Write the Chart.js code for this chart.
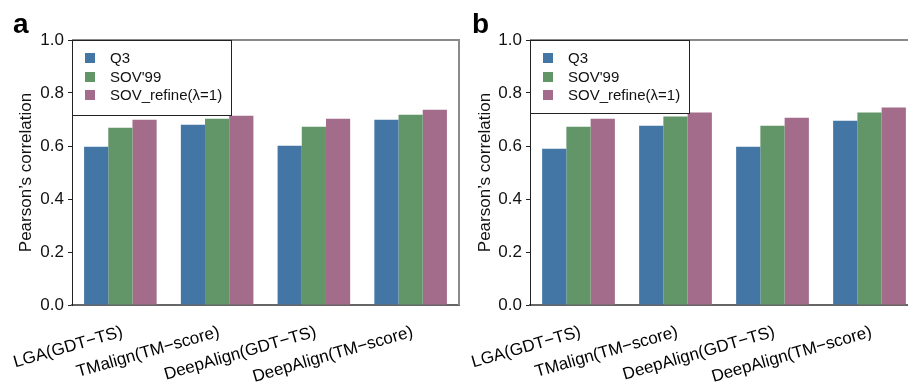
<!DOCTYPE html>
<html>
<head>
<meta charset="utf-8">
<script src="https://cdn.jsdelivr.net/npm/chart.js@4.4.1/dist/chart.umd.min.js"></script>
<style>
  html, body { margin: 0; padding: 0; background: #fff; width: 908px; height: 386px; overflow: hidden; position: relative; }
  canvas { position: absolute; top: 0; }
  #ca { left: 0; }
  #cb { left: 462px; }
</style>
</head>
<body>
<canvas id="ca" width="462" height="386"></canvas>
<canvas id="cb" width="466" height="386"></canvas>
<script>
const categories = ['LGA(GDT\u2212TS)', 'TMalign(TM\u2212score)', 'DeepAlign(GDT\u2212TS)', 'DeepAlign(TM\u2212score)'];
const seriesNames = ['Q3', "SOV'99", 'SOV_refine(\u03bb=1)'];
const yTickLabels = ['0.0', '0.2', '0.4', '0.6', '0.8', '1.0'];
const panelLetters = ['a', 'b'];

const a_q3     = [0.597, 0.680, 0.601, 0.699];
const a_sov99  = [0.669, 0.703, 0.673, 0.718];
const a_refine = [0.699, 0.714, 0.703, 0.737];

const b_q3     = [0.590, 0.676, 0.597, 0.695];
const b_sov99  = [0.673, 0.711, 0.676, 0.726];
const b_refine = [0.703, 0.726, 0.707, 0.745];

const colors = ['#4476a5', '#629669', '#a36c8a'];
const FONT = "'Liberation Sans', Arial, sans-serif";

const decorPlugin = {
  id: 'decor',
  afterDraw(chart, args, opts) {
    const ctx = chart.ctx;
    const ca = chart.chartArea;
    ctx.save();
    ctx.strokeStyle = '#8a8a8a';
    ctx.lineWidth = 2;
    ctx.beginPath();
    ctx.moveTo(ca.left, ca.top);
    ctx.lineTo(ca.right, ca.top);
    ctx.lineTo(ca.right, ca.bottom);
    ctx.stroke();
    const lx = ca.left, ly = ca.top, lw = 159, lh = opts.legendH;
    ctx.fillStyle = '#fff';
    ctx.fillRect(lx, ly, lw, lh);
    ctx.strokeStyle = '#222';
    ctx.lineWidth = 1;
    ctx.strokeRect(lx + 0.5, ly + 0.5, lw, lh);
    const rows = [18, 37, 55];
    ctx.font = '15px ' + FONT;
    ctx.textBaseline = 'middle';
    ctx.textAlign = 'left';
    chart.data.datasets.forEach((ds, i) => {
      ctx.fillStyle = ds.backgroundColor;
      ctx.fillRect(lx + 13, ly + rows[i] - 5, 10, 10);
      ctx.fillStyle = '#111';
      ctx.fillText(ds.label, lx + 38, ly + rows[i] + 1);
    });
    ctx.font = 'bold 28px ' + FONT;
    ctx.fillStyle = '#000';
    ctx.textBaseline = 'alphabetic';
    ctx.fillText(opts.letter, ca.left - opts.letterOff, 33);
    ctx.restore();
  }
};

function makeChart(id, q3, sov, ref, letter, padL, padR, yW, letterOff, legendH) {
  return new Chart(document.getElementById(id), {
    type: 'bar',
    data: {
      labels: categories,
      datasets: [
        { label: seriesNames[0], data: q3, backgroundColor: colors[0] },
        { label: seriesNames[1], data: sov, backgroundColor: colors[1] },
        { label: seriesNames[2], data: ref, backgroundColor: colors[2] }
      ]
    },
    options: {
      responsive: false,
      animation: false,
      devicePixelRatio: 1,
      layout: { padding: { left: padL, right: padR, top: 40, bottom: 0 } },
      datasets: { bar: { categoryPercentage: 0.75, barPercentage: 1.0, borderWidth: 0 } },
      plugins: {
        legend: { display: false },
        tooltip: { enabled: false },
        decor: { letter: letter, letterOff: letterOff, legendH: legendH }
      },
      scales: {
        x: {
          offset: true,
          grid: { display: false },
          border: { display: true, color: '#666', width: 2 },
          ticks: {
            autoSkip: false, minRotation: 16, maxRotation: 16,
            padding: 9, labelOffset: 2, color: '#000',
            font: { family: FONT, size: 17 }
          },
          afterFit(s) { s.paddingLeft = 0; s.paddingRight = 0; s.height = 81; }
        },
        y: {
          min: 0, max: 1,
          ticks: {
            stepSize: 0.2, padding: 4, color: '#111',
            font: { family: FONT, size: 17 },
            callback: (v) => yTickLabels[Math.round(v / 0.2)]
          },
          grid: { display: true, drawOnChartArea: false, drawTicks: true, tickLength: 4, color: '#222' },
          border: { display: true, color: '#222', width: 1 },
          title: {
            display: true, text: 'Pearson\u2019s correlation', color: '#111',
            font: { family: FONT, size: 17 }, padding: { top: 3, bottom: 0 }
          },
          afterFit(s) { s.width = yW; }
        }
      }
    },
    plugins: [decorPlugin]
  });
}

makeChart('ca', a_q3, a_sov99, a_refine, panelLetters[0], 13, 3, 59, 59, 75);
makeChart('cb', b_q3, b_sov99, b_refine, panelLetters[1], 10, 10, 58, 58, 73);
</script>
</body>
</html>
